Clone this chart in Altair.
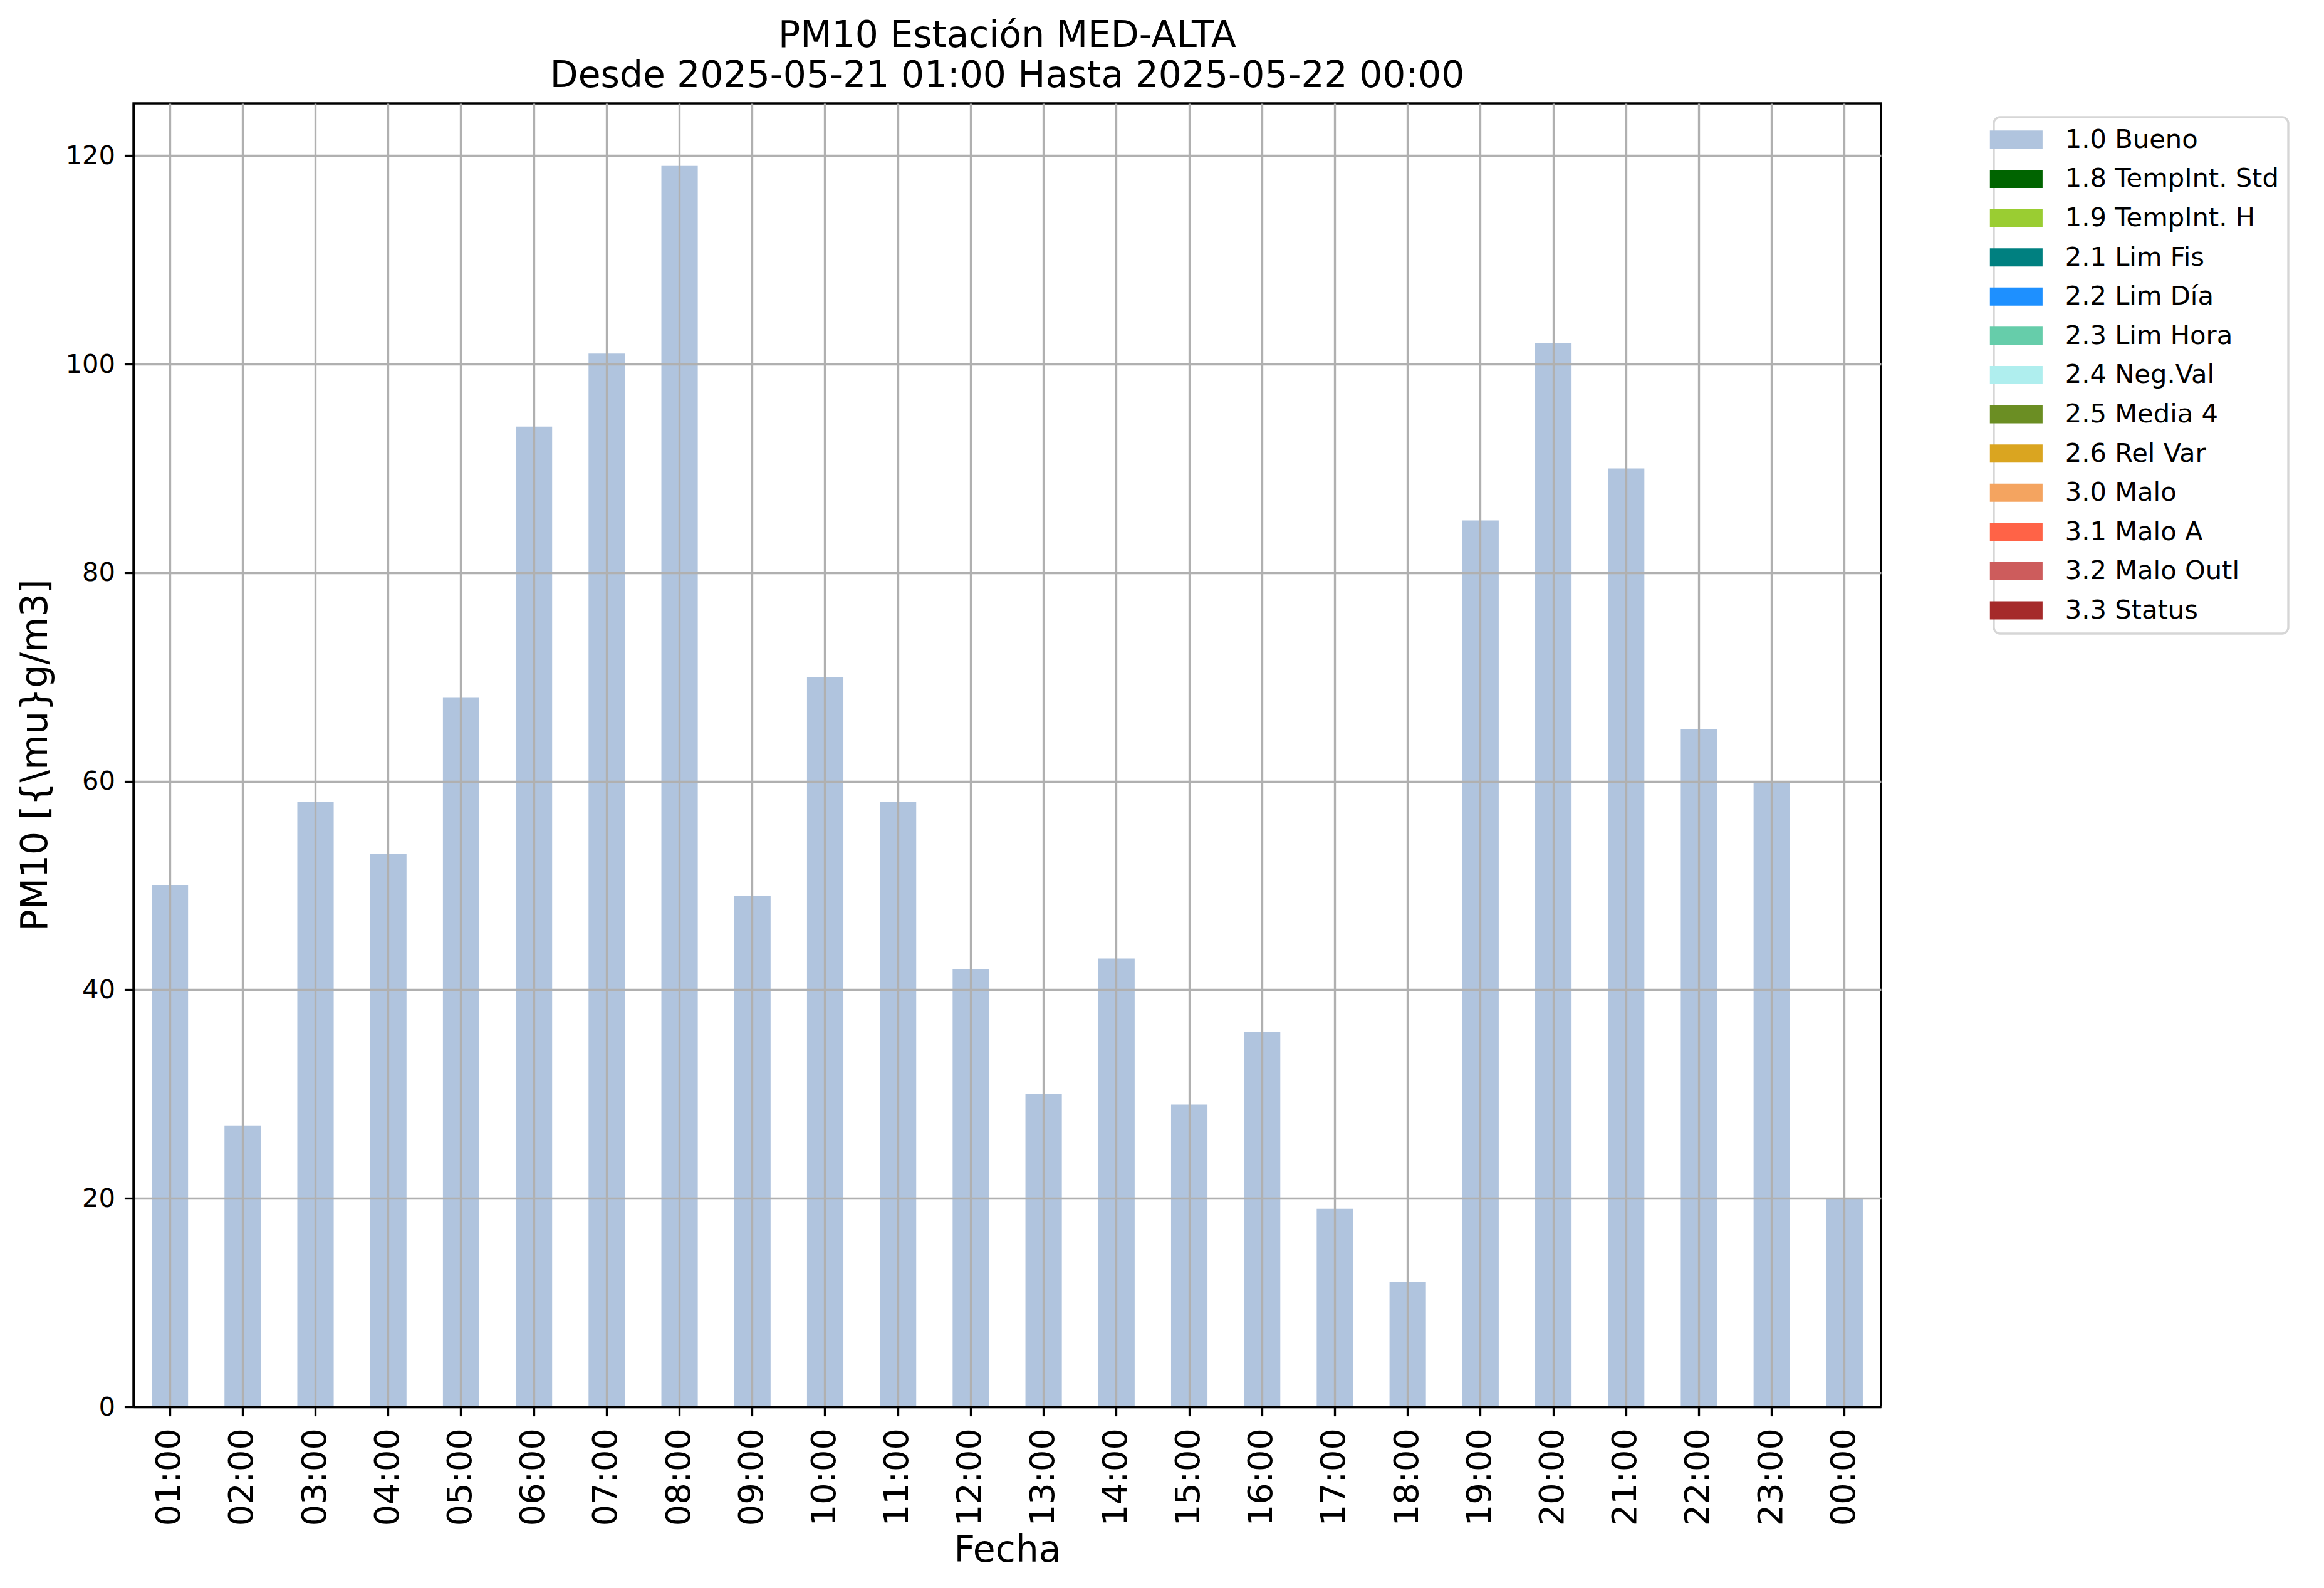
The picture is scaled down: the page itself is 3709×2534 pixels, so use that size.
import altair as alt
import pandas as pd

# ---- data ----
horas = ["01:00", "02:00", "03:00", "04:00", "05:00", "06:00", "07:00", "08:00",
         "09:00", "10:00", "11:00", "12:00", "13:00", "14:00", "15:00", "16:00",
         "17:00", "18:00", "19:00", "20:00", "21:00", "22:00", "23:00", "00:00"]
pm10 = [50, 27, 58, 53, 68, 94, 101, 119, 49, 70, 58, 42,
        30, 43, 29, 36, 19, 12, 85, 102, 90, 65, 60, 20]
calidad_hora = ["1.0 Bueno"] * len(horas)

calidad_labels = ["1.0 Bueno", "1.8 TempInt. Std", "1.9 TempInt. H", "2.1 Lim Fis",
                  "2.2 Lim Día", "2.3 Lim Hora", "2.4 Neg.Val", "2.5 Media 4",
                  "2.6 Rel Var", "3.0 Malo", "3.1 Malo A", "3.2 Malo Outl", "3.3 Status"]
calidad_colors = ["#B0C4DE", "#006400", "#9ACD32", "#008080", "#1E90FF", "#66CDAA",
                  "#AFEEEE", "#6B8E23", "#DAA520", "#F4A460", "#FF6347", "#CD5C5C",
                  "#A52A2A"]
y_ticks = [0, 20, 40, 60, 80, 100, 120]
title_lines = ["PM10 Estación MED-ALTA",
               "Desde 2025-05-21 01:00 Hasta 2025-05-22 00:00"]
x_title = "Fecha"
y_title = "PM10 [{\\mu}g/m3]"

df = pd.DataFrame({"Fecha": horas, "PM10": pm10, "Calidad": calidad_hora})

FONT = "DejaVu Sans"
PT = 300 / 72.0
LW = 0.8 * PT
W, H = 2789, 2080

chart = alt.Chart(df).mark_bar(opacity=1).encode(
    x=alt.X(
        "Fecha:N", sort=horas,
        scale=alt.Scale(paddingInner=0.5, paddingOuter=0.25),
        axis=alt.Axis(
            title=x_title, grid=True, bandPosition=0.5, zindex=1,
            labelAngle=270, labelAlign="right", labelBaseline="middle",
            labelFontSize=13 * PT, labelPadding=19, labelOverlap=False,
            titleFontSize=14 * PT, titleX=W / 2, titleY=246,
            titleAlign="center", titleBaseline="alphabetic", titleAngle=0,
            titleFontWeight="normal",
        ),
    ),
    y=alt.Y(
        "PM10:Q",
        scale=alt.Scale(domain=[0, 125], nice=False, zero=True),
        axis=alt.Axis(
            title=y_title, values=y_ticks, grid=True, zindex=1,
            labelFontSize=10 * PT, labelPadding=15, labelFlush=False,
            titleFontSize=14 * PT, titleX=-139, titleY=H / 2, titleAngle=270,
            titleAlign="center", titleBaseline="alphabetic",
            titleFontWeight="normal",
        ),
    ),
    color=alt.Color(
        "Calidad:N",
        scale=alt.Scale(domain=calidad_labels, range=calidad_colors),
        legend=alt.Legend(
            title=None, orient="none", legendX=2969, legendY=22,
            direction="vertical", columns=1,
            symbolType="M-2.9,-1L2.9,-1L2.9,1L-2.9,1Z", symbolSize=841,
            symbolStrokeWidth=0, symbolOffset=0, symbolOpacity=1,
            labelOffset=57, labelFont=FONT, labelFontSize=10 * PT,
            labelColor="black", labelLimit=0, rowPadding=19.6, padding=15,
            strokeColor="#d6d6d6", fillColor="white",
            cornerRadius=10,
        ),
    ),
).properties(
    width=W, height=H, background="white",
    title=alt.TitleParams(
        text=title_lines, font=FONT, fontSize=14 * PT, fontWeight="normal",
        color="black", anchor="middle", frame="group", lineHeight=64,
        offset=13, dy=45, baseline="alphabetic",
    ),
    autosize=alt.AutoSizeParams(type="none"),
    padding={"left": 205, "top": 157, "right": 690, "bottom": 270},
).configure_view(
    stroke="black", strokeWidth=LW
).configure_axis(
    domainColor="black", domainWidth=LW, tickColor="black", tickWidth=LW,
    tickSize=3.5 * PT, gridColor="#b0b0b0", gridWidth=LW, gridOpacity=1,
    labelFont=FONT, titleFont=FONT, labelColor="black", titleColor="black",
    titleFontWeight="normal",
).configure_legend(
    strokeWidth=LW
)

chart.save("out.html", embed_options={"renderer": "svg", "actions": False})
